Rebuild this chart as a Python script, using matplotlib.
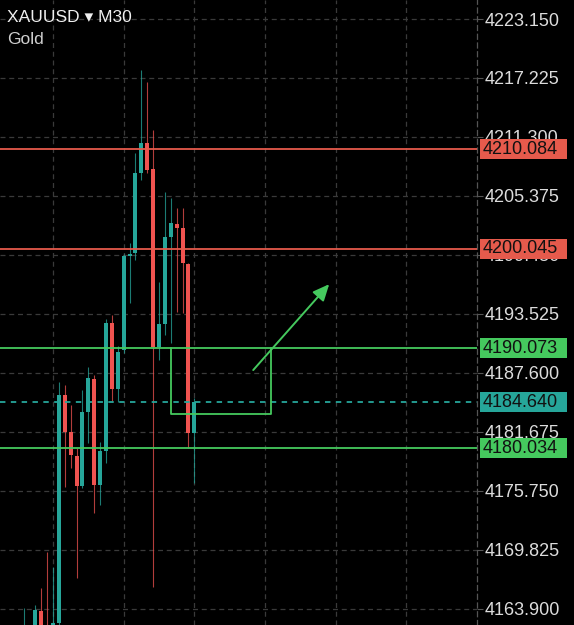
import matplotlib
matplotlib.use("Agg")
import matplotlib.pyplot as plt
from matplotlib.patches import Rectangle
from matplotlib.transforms import blended_transform_factory
import numpy as np

plt.rcParams['font.family'] = ['Liberation Sans', 'DejaVu Sans']

# candles, oldest to newest; index 0 = last bar
bar_index = np.arange(-29, 1)
opens = [4150.0, 4160.5, 4158.0, 4163.68, 4161.5, 4158.9, 4162.48, 4185.36, 4181.67, 4179.23,
         4176.22, 4183.68, 4186.97, 4176.32, 4179.76, 4192.57, 4185.96, 4189.88, 4199.36, 4199.60,
         4207.64, 4210.72, 4208.04, 4190.15, 4192.50, 4201.21, 4202.55, 4202.11, 4198.53, 4181.51]
highs = [4163.95, 4161.5, 4164.26, 4165.96, 4169.61, 4168.1, 4186.70, 4186.37, 4184.36, 4180.03,
         4185.86, 4188.2, 4187.37, 4180.67, 4193.0, 4193.40, 4190.29, 4199.5, 4200.64, 4209.68,
         4218.02, 4216.85, 4211.99, 4196.75, 4205.79, 4205.16, 4204.15, 4204.15, 4198.6, 4185.06]
lows = [4149.0, 4152.0, 4157.0, 4158.0, 4157.5, 4157.8, 4162.0, 4176.15, 4178.02, 4166.97,
        4176.0, 4180.54, 4173.50, 4174.31, 4178.5, 4184.69, 4184.69, 4189.58, 4194.61, 4198.93,
        4206.97, 4207.67, 4166.06, 4188.88, 4191.39, 4190.59, 4193.73, 4193.60, 4180.03, 4176.52]
closes = [4160.5, 4158.0, 4163.75, 4159.5, 4158.9, 4162.48, 4185.36, 4181.67, 4179.33, 4176.22,
          4183.68, 4187.04, 4176.32, 4179.76, 4192.57, 4185.96, 4189.71, 4199.36, 4199.53, 4207.64,
          4210.72, 4207.97, 4190.15, 4192.50, 4201.27, 4202.62, 4202.11, 4198.60, 4181.51, 4184.64]

resistance = [4210.084, 4200.045]
support = [4190.073, 4180.034]
last_price = 4184.640
price_ticks = [4163.900, 4169.825, 4175.750, 4181.675, 4187.600, 4193.525,
               4199.450, 4205.375, 4211.300, 4217.225, 4223.150]
zone_x = (-4.0, 13.0)
zone_y = (4183.45, 4190.073)
arrow_from = (10.0, 4187.87)
arrow_to = (22.9, 4196.5)

UP = '#26a69a'
DOWN = '#ef5350'
RED_LINE = '#e65a4c'
GREEN = '#45c95e'
GRID = '#3a3a3a'

fig = plt.figure(figsize=(5.74, 6.25), dpi=100, facecolor='black')
ax = fig.add_axes([0, 0, 477 / 574, 1])
ax.set_facecolor('black')
ax.set_xlim(-33.0, 48.0)
ax.set_ylim(4162.25, 4225.06)

# grid
ax.set_xticks([-24, -12, 0, 12, 24, 36])
ax.set_yticks(price_ticks)
ax.grid(True, color=GRID, linestyle=(0, (4, 3)), linewidth=0.9)
ax.set_axisbelow(True)
for s in ['top', 'left', 'bottom']:
    ax.spines[s].set_visible(False)
ax.spines['right'].set_color('#555555')
ax.spines['right'].set_linestyle((0, (4, 3)))
ax.spines['right'].set_linewidth(0.9)
ax.tick_params(axis='x', length=0, labelbottom=False)
ax.yaxis.tick_right()
ax.tick_params(axis='y', direction='out', length=4, color='#555555', width=0.8,
               labelcolor='#dcdcdc', labelsize=13, pad=1.5)
ax.set_yticklabels([f"{t:.3f}" for t in price_ticks])

# candles
for x, o, h, l, c in zip(bar_index, opens, highs, lows, closes):
    col = UP if c >= o else DOWN
    ax.vlines(x, l, h, color=col, linewidth=0.8, alpha=0.75, zorder=3)
    ax.bar(x, abs(c - o), bottom=min(o, c), width=0.68, color=col, linewidth=0, zorder=4)

# levels
trans = blended_transform_factory(ax.transAxes, ax.transData)
for lvl in resistance:
    ax.axhline(lvl, color=RED_LINE, linewidth=1.3, zorder=5)
for lvl in support:
    ax.axhline(lvl, color=GREEN, linewidth=1.3, zorder=5)
ax.axhline(last_price, color=UP, linewidth=1.3, linestyle=(0, (3, 3)), zorder=5)

# price tags on the scale
labels = [(v, RED_LINE) for v in resistance] + [(v, GREEN) for v in support] + [(last_price, UP)]
for v, col in labels:
    ax.add_patch(Rectangle((1.006, v - 1.0), 0.183, 2.0, transform=trans, facecolor=col,
                           edgecolor='none', clip_on=False, zorder=9))
    ax.text(1.0125, v, f"{v:.3f}", transform=trans, ha='left', va='center',
            fontsize=13, color='#111111', clip_on=False, zorder=10)

# zone + arrow
ax.plot([zone_x[0], zone_x[0], zone_x[1], zone_x[1]],
        [zone_y[1], zone_y[0], zone_y[0], zone_y[1]], color=GREEN, linewidth=1.3, zorder=5)
ax.annotate('', xy=arrow_to, xytext=arrow_from,
            arrowprops=dict(arrowstyle='-|>,head_length=1.0,head_width=0.45',
                            color=GREEN, linewidth=1.4, shrinkA=0, shrinkB=0), zorder=6)

# title
fig.text(7 / 574, 1 - 18 / 625, "XAUUSD \u25be M30", color='#f0f0f0', fontsize=12.5,
         ha='left', va='center')
fig.text(7 / 574, 1 - 39 / 625, "Gold", color='#cfcfcf', fontsize=12.5, ha='left', va='center')

fig.savefig('out.png', dpi=100, facecolor='black')
